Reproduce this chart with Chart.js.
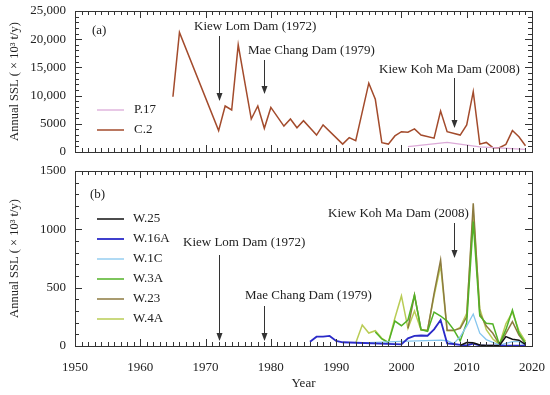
<!DOCTYPE html>
<html>
<head>
<meta charset="utf-8">
<script src="https://cdn.jsdelivr.net/npm/chart.js@4.4.0/dist/chart.umd.min.js"></script>
<style>
  body { margin: 0; background: #fff; }
  #lienzo { position: relative; width: 550px; height: 395px; }
  canvas { position: absolute; left: 0; }
  #graficaA { top: 0; }
  #graficaB { top: 160px; }
</style>
</head>
<body>
<div id="lienzo">
  <canvas id="graficaA" width="550" height="160"></canvas>
  <canvas id="graficaB" width="550" height="235"></canvas>
</div>
<script>
// datos (x 10^3 t/y)
const anosC2 = [1965,1966,1972,1973,1974,1975,1977,1978,1979,1980,1982,1983,1984,1985,1987,1988,1991,1992,1993,1995,1996,1997,1998,1999,2000,2001,2002,2003,2005,2006,2007,2009,2010,2011,2012,2013,2014,2015,2016,2017,2018,2019];
const sslC2 = [9800,21200,3800,8150,7450,19000,5850,8150,4200,7900,4600,5850,4300,5550,3000,4800,1400,2550,2000,12200,9350,1650,1400,2850,3600,3500,4100,3000,2450,7250,3600,3000,4800,10700,1400,1700,770,770,1350,3800,2700,1100];

const anosP17 = [2001,2007,2012,2019];
const sslP17 = [950,1700,900,480];

const anosW25 = [2009,2010,2011,2012,2013,2014,2015,2016,2017,2018,2019];
const sslW25 = [5,30,28,8,4,4,3,80,58,50,14];

const anosW16A = [1986,1987,1988,1989,1990,1991,2000,2001,2002,2003,2004,2005,2006,2007,2008,2009,2010,2011,2012,2015,2019];
const sslW16A = [37,80,80,86,43,32,14,66,86,90,88,143,223,23,17,10,5,20,5,3,3];

const anosW1C = [1993,2000,2006,2007,2008,2009,2010,2011,2012,2013,2015,2017,2018,2019];
const sslW1C = [25,40,50,45,20,80,170,274,110,55,8,37,37,8];

const anosW3A = [1996,1997,1998,1999,2000,2001,2002,2003,2004,2005,2006,2007,2008,2009,2010,2011,2012,2013,2014,2015,2016,2017,2018,2019];
const sslW3A = [120,60,29,214,174,223,437,140,126,291,257,214,140,43,200,1066,257,194,189,14,140,309,109,23];

const anosW23 = [2001,2002,2003,2004,2005,2006,2007,2008,2009,2010,2011,2012,2013,2014,2015,2016,2017,2018,2019];
const sslW23 = [151,437,140,131,451,737,134,134,151,250,1223,280,171,109,14,109,209,94,23];

const anosW4A = [1993,1994,1995,1996,1997,1998,1999,2000,2001,2002,2003,2004,2005,2006,2007,2008,2009,2010,2011,2012,2013,2014,2015,2016,2017,2018,2019];
const sslW4A = [26,180,111,131,66,31,240,429,151,300,137,140,430,690,130,130,160,280,1150,320,140,60,14,190,290,130,40];

const ticksAnio = [1950,1960,1970,1980,1990,2000,2010,2020];
const ticksA = [0,5000,10000,15000,20000,25000];
const ticksB = [0,500,1000,1500];

const presas = ['Kiew Lom Dam (1972)', 'Mae Chang Dam (1979)', 'Kiew Koh Ma Dam (2008)'];
const anosPresa = [1972, 1979, 2008];

const FUENTE = '"Liberation Serif", "Times New Roman", serif';
const TINTA = '#222';

function puntos(anos, vals) {
    return anos.map((a, i) => ({ x: a, y: vals[i] }));
}

function serie(label, anos, vals, color, ancho) {
    return {
        label: label,
        data: puntos(anos, vals),
        borderColor: color,
        backgroundColor: color,
        borderWidth: ancho,
        pointRadius: 0,
        tension: 0,
        fill: false
    };
}

// marco, ticks hacia dentro, leyenda, flechas y rotulo del panel
const marcoPlugin = {
    id: 'marco',
    afterDatasetsDraw(chart, args, o) {
        const { ctx, chartArea: ca, scales } = chart;
        const sx = scales.x, sy = scales.y;
        ctx.save();
        ctx.strokeStyle = '#333';
        ctx.lineWidth = 1;
        ctx.strokeRect(ca.left + 0.5, ca.top + 0.5, ca.right - ca.left, ca.bottom - ca.top);

        ctx.beginPath();
        for (let a = sx.min; a <= sx.max; a++) {
            const px = Math.round(sx.getPixelForValue(a)) + 0.5;
            const l = a % 10 === 0 ? 7 : 4;
            ctx.moveTo(px, ca.bottom); ctx.lineTo(px, ca.bottom - l);
            ctx.moveTo(px, ca.top); ctx.lineTo(px, ca.top + l);
        }
        for (let v = sy.min; v <= sy.max; v += o.menor) {
            const py = Math.round(sy.getPixelForValue(v)) + 0.5;
            const l = v % o.mayor === 0 ? 7 : 4;
            ctx.moveTo(ca.left, py); ctx.lineTo(ca.left + l, py);
            ctx.moveTo(ca.right, py); ctx.lineTo(ca.right - l, py);
        }
        ctx.stroke();

        ctx.font = '13px ' + FUENTE;
        ctx.fillStyle = TINTA;
        ctx.textBaseline = 'middle';
        ctx.textAlign = 'left';
        ctx.fillText(o.rotulo[0], o.rotulo[1], o.rotulo[2]);

        // leyenda
        chart.data.datasets.forEach((d, i) => {
            const y = o.leyenda.y + i * o.leyenda.paso;
            ctx.strokeStyle = d.borderColor;
            ctx.lineWidth = d.borderWidth;
            ctx.beginPath();
            ctx.moveTo(o.leyenda.x, y);
            ctx.lineTo(o.leyenda.x + 27, y);
            ctx.stroke();
            ctx.fillStyle = TINTA;
            ctx.fillText(d.label, o.leyenda.tx, y);
        });

        // presas
        ctx.strokeStyle = '#333';
        ctx.lineWidth = 1;
        o.notas.forEach((n, i) => {
            const px = Math.round(sx.getPixelForValue(anosPresa[i])) + 0.5;
            ctx.fillStyle = TINTA;
            ctx.fillText(presas[i], n.tx, n.ty);
            ctx.beginPath();
            ctx.moveTo(px, n.y1);
            ctx.lineTo(px, n.y2);
            ctx.stroke();
            ctx.fillStyle = '#333';
            ctx.beginPath();
            ctx.moveTo(px, n.y2 + 1);
            ctx.lineTo(px - 3, n.y2 - 7);
            ctx.lineTo(px + 3, n.y2 - 7);
            ctx.closePath();
            ctx.fill();
        });
        ctx.restore();
    }
};

function opciones(cfg) {
    return {
        responsive: false,
        animation: false,
        layout: { padding: { top: 11, right: 18, left: 0, bottom: 0 } },
        plugins: {
            legend: { display: false },
            tooltip: { enabled: false },
            marco: cfg.marco
        },
        scales: {
            x: {
                type: 'linear', min: 1950, max: 2020,
                grid: { display: false, drawTicks: false },
                border: { display: false },
                afterBuildTicks: s => { s.ticks = ticksAnio.map(v => ({ value: v })); },
                ticks: {
                    display: cfg.etiquetasX, padding: 14, color: TINTA,
                    font: { family: FUENTE, size: 13 }, maxRotation: 0,
                    callback: v => String(v)
                },
                title: {
                    display: cfg.etiquetasX, text: 'Year', color: TINTA,
                    font: { family: FUENTE, size: 13 }, padding: { top: 0, bottom: 4 }
                },
                afterFit: s => {
                    s.height = cfg.altoX;
                    s.paddingLeft = 0; s.paddingRight = 0;
                }
            },
            y: {
                min: 0, max: cfg.maxY,
                grid: { display: false, drawTicks: false },
                border: { display: false },
                afterBuildTicks: s => { s.ticks = cfg.ticks.map(v => ({ value: v })); },
                ticks: {
                    padding: 9, color: TINTA,
                    font: { family: FUENTE, size: 13 },
                    callback: v => v >= 10000 ? v.toLocaleString('en-US') : String(v)
                },
                title: {
                    display: true, text: 'Annual SSL ( \u00d7 10\u00b3 t/y)', color: TINTA,
                    font: { family: FUENTE, size: 12.5 }, padding: { top: 7, bottom: 0 }
                },
                afterFit: s => {
                    s.width = 75;
                    s.paddingTop = 0; s.paddingBottom = 0;
                }
            }
        }
    };
}

new Chart(document.getElementById('graficaA').getContext('2d'), {
    type: 'line',
    data: {
        datasets: [
            serie('P.17', anosP17, sslP17, '#dcaad8', 1.3),
            serie('C.2', anosC2, sslC2, '#a34b2c', 1.5)
        ]
    },
    options: opciones({
        etiquetasX: false, altoX: 8, maxY: 25000, ticks: ticksA,
        marco: {
            menor: 1000, mayor: 5000,
            rotulo: ['(a)', 92, 31],
            leyenda: { x: 97, tx: 134, y: 110, paso: 20 },
            notas: [
                { tx: 194, ty: 27, y1: 36, y2: 100 },
                { tx: 248, ty: 51, y1: 60, y2: 93 },
                { tx: 379, ty: 70, y1: 78, y2: 127 }
            ]
        }
    }),
    plugins: [marcoPlugin]
});

new Chart(document.getElementById('graficaB').getContext('2d'), {
    type: 'line',
    data: {
        datasets: [
            serie('W.25', anosW25, sslW25, '#111111', 1.5),
            serie('W.16A', anosW16A, sslW16A, '#2a2ac8', 1.8),
            serie('W.1C', anosW1C, sslW1C, '#86c6ee', 1.3),
            serie('W.3A', anosW3A, sslW3A, '#52b226', 1.5),
            serie('W.23', anosW23, sslW23, '#8c7a40', 1.5),
            serie('W.4A', anosW4A, sslW4A, '#b9cc55', 1.5)
        ]
    },
    options: opciones({
        etiquetasX: true, altoX: 49, maxY: 1500, ticks: ticksB,
        marco: {
            menor: 100, mayor: 500,
            rotulo: ['(b)', 90, 35],
            leyenda: { x: 97, tx: 133, y: 59, paso: 20 },
            notas: [
                { tx: 183, ty: 83, y1: 95, y2: 180 },
                { tx: 245, ty: 136, y1: 146, y2: 180 },
                { tx: 328, ty: 54, y1: 63, y2: 97 }
            ]
        }
    }),
    plugins: [marcoPlugin]
});
</script>
</body>
</html>
